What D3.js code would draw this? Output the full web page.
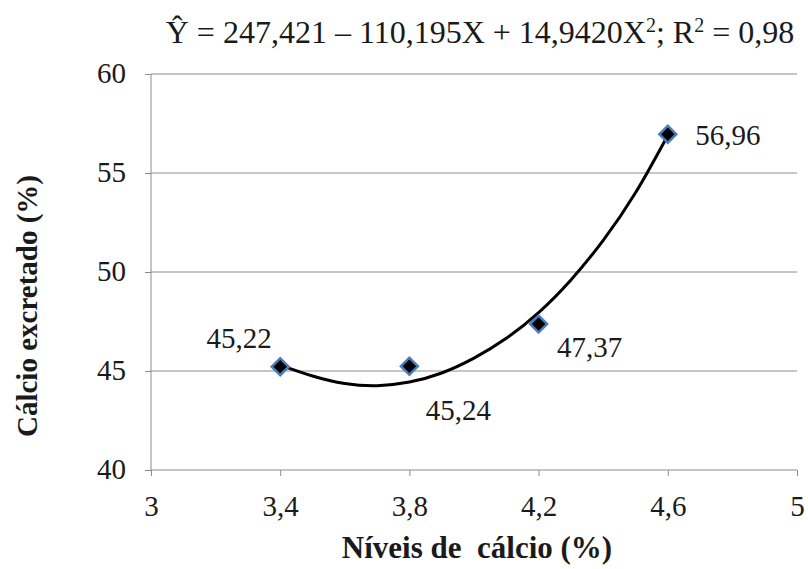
<!DOCTYPE html>
<html>
<head>
<meta charset="utf-8">
<script src="https://cdn.jsdelivr.net/npm/d3@7"></script>
<style>
  body { margin: 0; background: #fff; }
  svg text { font-family: "Liberation Serif", "Times New Roman", serif !important; fill: #1a1a1a; white-space: pre; }
</style>
</head>
<body>
<div id="chart"></div>
<script>
// observed points
const niveis = [3.4, 3.8, 4.2, 4.6];
const excretado = [45.22, 45.24, 47.37, 56.96];
const pointLabels = ["45,22", "45,24", "47,37", "56,96"];

// trend curve
const trendX = [3.4, 3.5, 3.6, 3.7, 3.8, 3.9, 4.0, 4.1, 4.2, 4.3, 4.4, 4.5, 4.6];
const trendY = [45.3, 44.75, 44.37, 44.26, 44.44, 44.9, 45.65, 46.65, 47.95, 49.6, 51.6, 54.0, 56.9];

const xTicks = [3, 3.4, 3.8, 4.2, 4.6, 5];
const yTicks = [40, 45, 50, 55, 60];

const serif = '"Liberation Serif", "Times New Roman", serif';
const W = 808, H = 569;
const margin = { top: 74, right: 11, bottom: 99, left: 151 };
const width = W - margin.left - margin.right,
    height = H - margin.top - margin.bottom;

const svg = d3.select("#chart").append("svg")
    .attr("width", W).attr("height", H)
    .attr("font-family", serif);
const g = svg.append("g")
    .attr("transform", `translate(${margin.left},${margin.top})`);

const x = d3.scaleLinear().domain([3, 5]).range([0, width]);
const y = d3.scaleLinear().domain([40, 60]).range([height, 0]);
const fmt = d => String(d).replace(".", ",");

// gridlines
g.append("g").selectAll("line")
    .data(yTicks.slice(1))
    .join("line")
    .attr("x1", 0).attr("x2", width)
    .attr("y1", d => y(d)).attr("y2", d => y(d))
    .attr("stroke", "#8c8c8c").attr("stroke-width", 1);

// y axis
const yAxis = g.append("g")
    .call(d3.axisLeft(y).tickValues(yTicks).tickSize(6).tickFormat(fmt))
    .attr("font-family", serif);
yAxis.select(".domain").attr("stroke", "#8c8c8c").attr("d", `M0,${height}V0`);
yAxis.selectAll(".tick line").attr("stroke", "#8c8c8c");
yAxis.selectAll("text").attr("font-size", 29).attr("x", -25).attr("dy", "0.3em")
    .style("font-family", serif);

// x axis
const xAxis = g.append("g")
    .attr("transform", `translate(0,${height})`)
    .call(d3.axisBottom(x).tickValues(xTicks).tickSize(6).tickFormat(fmt))
    .attr("font-family", serif);
xAxis.select(".domain").attr("stroke", "#8c8c8c").attr("d", `M0,0H${width}`);
xAxis.selectAll(".tick line").attr("stroke", "#8c8c8c");
xAxis.selectAll("text").attr("font-size", 29).attr("y", 46).attr("dy", 0)
    .style("font-family", serif);

// trend curve
g.append("path")
    .datum(trendX.map((d, i) => [d, trendY[i]]))
    .attr("fill", "none")
    .attr("stroke", "#000")
    .attr("stroke-width", 3)
    .attr("d", d3.line().curve(d3.curveNatural)
        .x(d => x(d[0]))
        .y(d => y(d[1])));

// markers
g.selectAll(".pt")
    .data(niveis)
    .join("path")
    .attr("class", "pt")
    .attr("transform", (d, i) => `translate(${x(d)},${y(excretado[i])}) rotate(45)`)
    .attr("d", "M-6,-6H6V6H-6Z")
    .attr("fill", "#000")
    .attr("stroke", "#4a7ebb")
    .attr("stroke-width", 2.5);

// point labels
const labelOffset = [[-41, -19], [49, 54], [51, 33], [60, 11]];
g.selectAll(".lbl")
    .data(niveis)
    .join("text")
    .attr("class", "lbl")
    .attr("x", (d, i) => x(d) + labelOffset[i][0])
    .attr("y", (d, i) => y(excretado[i]) + labelOffset[i][1])
    .attr("text-anchor", "middle")
    .attr("font-size", 29)
    .text((d, i) => pointLabels[i]);

// title (equation)
const title = svg.append("text")
    .attr("x", 480).attr("y", 43)
    .attr("text-anchor", "middle")
    .attr("font-size", 32);
title.append("tspan").text("Ŷ = 247,421 – 110,195X + 14,9420X");
title.append("tspan").attr("dy", -11).attr("font-size", 20).text("2");
title.append("tspan").attr("dy", 11).text("; R");
title.append("tspan").attr("dy", -11).attr("font-size", 20).text("2");
title.append("tspan").attr("dy", 11).text(" = 0,98");

// axis titles
svg.append("text")
    .attr("x", 477).attr("y", 558)
    .attr("text-anchor", "middle")
    .attr("font-size", 31)
    .attr("font-weight", "bold")
    .text("Níveis de  cálcio (%)");

svg.append("text")
    .attr("transform", "translate(37,306) rotate(-90)")
    .attr("text-anchor", "middle")
    .attr("font-size", 29)
    .attr("font-weight", "bold")
    .text("Cálcio excretado (%)");
</script>
</body>
</html>
